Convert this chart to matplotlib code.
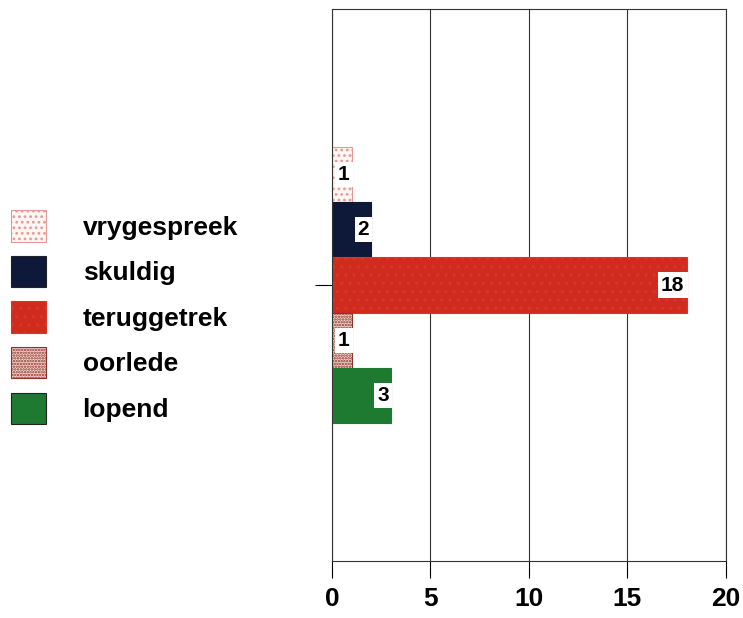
import matplotlib.pyplot as plt
from matplotlib.patches import Patch

plt.rcParams['font.family'] = ['Liberation Sans', 'DejaVu Sans']
plt.rcParams['font.weight'] = 'bold'
plt.rcParams['hatch.linewidth'] = 1.2

# data
uitslae = ['vrygespreek', 'skuldig', 'teruggetrek', 'oorlede', 'lopend']
aantal = [1, 2, 18, 1, 3]
x_ticks = [0, 5, 10, 15, 20]

# styles
fills = ['#fff6f4', '#0e1838', '#d12a1e', '#f2d6cf', '#1e7a31']
hatches = ['...', None, '..', '......', None]
hatch_cols = ['#e39a96', '#0e1838', '#d5372b', '#8e3328', '#1e7a31']

fig = plt.figure(figsize=(7.43, 6.18), dpi=100)
ax = fig.add_axes([0.4468, 0.0922, 0.977 - 0.4468, 0.9854 - 0.0922])

bar_h = 0.1
offsets = [0.2, 0.1, 0.0, -0.1, -0.2]
for naam, v, y, fc, h, hc in zip(uitslae, aantal, offsets, fills, hatches, hatch_cols):
    ax.barh(y, v, height=bar_h, color=fc, hatch=h, edgecolor=hc, linewidth=0.8)
    ax.annotate(str(v), xy=(v, y), xytext=(-1.5, 0), textcoords='offset points',
                ha='right', va='center', fontsize=15, fontweight='bold',
                bbox=dict(boxstyle='square,pad=0.15', fc='white', ec='none'))

ax.set_xlim(0, 20)
ax.set_ylim(-0.5, 0.5)
ax.set_xticks(x_ticks)
ax.set_xticklabels([str(t) for t in x_ticks], fontsize=19, fontweight='bold')
ax.set_yticks([0])
ax.set_yticklabels([''])
ax.tick_params(axis='x', direction='out', length=12, width=0.8, pad=7)
ax.tick_params(axis='y', direction='out', length=12, width=0.8)
ax.grid(axis='x', color='#333333', linewidth=0.8)
ax.set_axisbelow(True)
for s in ax.spines.values():
    s.set_linewidth(0.8)
    s.set_color('#333333')

handles = [Patch(facecolor=fc, hatch=h, edgecolor=hc if h else '#222222', linewidth=0.8)
           for fc, h, hc in zip(fills, hatches, hatch_cols)]
leg = fig.legend(handles, uitslae, loc='center left', bbox_to_anchor=(0.0, 0.487),
                 frameon=False, fontsize=19, handlelength=1.33, handleheight=1.45,
                 handletextpad=1.4, labelspacing=0.54, borderaxespad=0.0)
for t in leg.get_texts():
    t.set_fontweight('bold')

fig.savefig('out.png', dpi=100)
